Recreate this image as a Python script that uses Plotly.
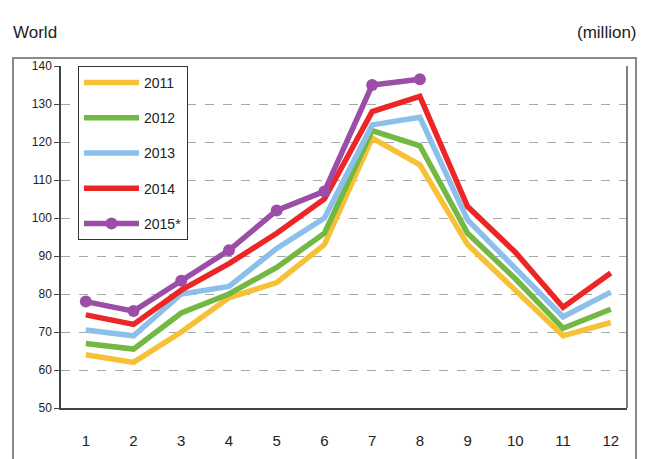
import plotly.graph_objects as go

months = [1, 2, 3, 4, 5, 6, 7, 8, 9, 10, 11, 12]
y2011 = [64, 62, 70, 79, 83, 93, 121, 114, 93, 81, 69, 72.5]
y2012 = [67, 65.5, 75, 80, 87, 96, 123, 119, 96, 84, 71, 76]
y2013 = [70.5, 69, 80, 82, 92, 100, 124.5, 126.5, 99.5, 87, 74, 80.5]
y2014 = [74.5, 72, 81, 88, 96, 105, 128, 132, 103, 91, 76.5, 85.5]
months_2015 = [1, 2, 3, 4, 5, 6, 7, 8]
y2015 = [78, 75.5, 83.5, 91.5, 102, 107, 135, 136.5]

series = [
    ("2011", months, y2011, "#F7C137"),
    ("2012", months, y2012, "#72B843"),
    ("2013", months, y2013, "#8CC0EA"),
    ("2014", months, y2014, "#EC2626"),
]

fig = go.Figure()
for i, (name, xs, ys, col) in enumerate(series):
    fig.add_trace(go.Scatter(x=xs, y=ys, name=name, mode="lines",
                             line=dict(color=col, width=5.5),
                             legendgroup=name))
fig.add_trace(go.Scatter(x=months_2015, y=y2015, name="2015*", mode="lines+markers",
                         line=dict(color="#9B4DA8", width=5.5),
                         marker=dict(color="#9B4DA8", size=12),
                         legendgroup="2015*"))

# page body has an 8px margin; target pixel positions are given in screen coordinates
OFF = 8
W, H = 654, 459
L, T = 61 - OFF, 66 - OFF
pw, ph = 566, 342
R = W - L - pw
B = H - T - ph

def px_x(p):
    return (p - OFF - L) / pw

def px_y(p):
    return (T + ph - (p - OFF)) / ph

fig.update_layout(
    width=W, height=H,
    margin=dict(l=L, r=R, t=T, b=B),
    paper_bgcolor="white", plot_bgcolor="white",
    font=dict(family="Liberation Sans, Arial, sans-serif", color="#222"),
    showlegend=True,
    legend=dict(x=px_x(78), y=px_y(66), xanchor="left", yanchor="top",
                bordercolor="#333", borderwidth=1, bgcolor="white",
                font=dict(size=14, color="#222"), tracegroupgap=14,
                traceorder="grouped", itemwidth=55),
    xaxis=dict(range=[0.48, 12.34], tickvals=months, ticktext=[str(m) for m in months],
               showgrid=False, zeroline=False, showline=True, linecolor="#444", linewidth=1.5,
               ticks="", tickfont=dict(size=15, color="#222"), ticklabelstandoff=18),
    yaxis=dict(range=[50, 140], dtick=10, showgrid=True, gridcolor="#a8a8a8",
               griddash="dash", gridwidth=1, zeroline=False, showline=True,
               linecolor="#444", linewidth=1.5, ticks="outside", ticklen=5,
               tickcolor="#444", tickfont=dict(size=12, color="#222")),
    shapes=[
        dict(type="rect", xref="paper", yref="paper", x0=px_x(13), x1=px_x(636),
             y0=px_y(475), y1=px_y(58), line=dict(color="#8a8a8a", width=2)),
        dict(type="line", xref="paper", yref="paper", x0=1, x1=1,
             y0=0, y1=1, line=dict(color="#555", width=1.5)),
    ],
    annotations=[
        dict(text="World", xref="paper", yref="paper", x=px_x(11), y=px_y(33),
             xanchor="left", yanchor="middle", showarrow=False,
             font=dict(size=17, color="#222")),
        dict(text="(million)", xref="paper", yref="paper", x=px_x(639), y=px_y(33),
             xanchor="right", yanchor="middle", showarrow=False,
             font=dict(size=17, color="#222")),
    ],
)

fig.write_html("out.html")
